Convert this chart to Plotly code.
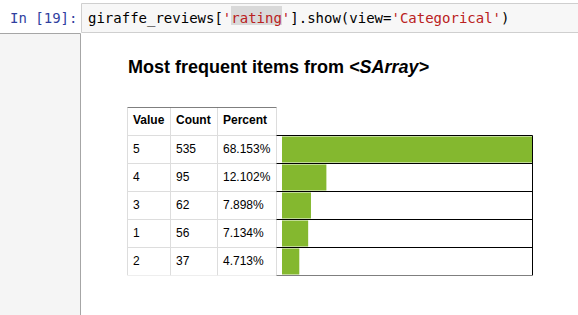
import plotly.graph_objects as go

# ---------------- data ----------------
values = ["5", "4", "3", "1", "2"]
counts = [535, 95, 62, 56, 37]
percents = ["68.153%", "12.102%", "7.898%", "7.134%", "4.713%"]
headers = ["Value", "Count", "Percent"]
title_text = "<b>Most frequent items from <i>&lt;SArray&gt;</i></b>"
prompt_text = "In [19]:"
code_parts = [
    ("giraffe_reviews[", "#000000"),
    ("'rating'", "#BA2121"),
    ("].show(view=", "#000000"),
    ("'Categorical'", "#BA2121"),
    (")", "#000000"),
]

# ---------------- layout constants ----------------
W, H = 578, 315


def px(x):
    return x / W


def py(y):
    return 1 - y / H


col_edges = [127.5, 170.5, 217.5, 276.5]
bar_left, bar_right = 282, 532
row_top, row_h = 107.5, 28
n_rows = len(values) + 1
y_bottom = row_top + n_rows * row_h

GREEN = "#84b82f"
GRAY_LINE = "#dddddd"
SANS = "Liberation Sans, Arial, sans-serif"
MONO = "DejaVu Sans Mono, monospace"

fig = go.Figure()
fig.add_trace(
    go.Bar(
        x=counts,
        y=list(range(1, len(counts) + 1)),
        orientation="h",
        marker=dict(color=GREEN, line=dict(width=0)),
        width=0.93,
        hoverinfo="skip",
    )
)

fig.update_layout(
    width=W,
    height=H,
    margin=dict(l=0, r=0, t=0, b=0),
    paper_bgcolor="white",
    plot_bgcolor="rgba(0,0,0,0)",
    showlegend=False,
    xaxis=dict(domain=[px(bar_left), px(bar_right)], range=[0, max(counts)],
               visible=False, fixedrange=True),
    yaxis=dict(domain=[py(y_bottom), py(row_top)], range=[n_rows - 0.5, -0.5],
               visible=False, fixedrange=True),
)

shapes = []
# notebook chrome: code cell box, highlight, output prompt area
shapes.append(dict(type="rect", xref="paper", yref="paper",
                   x0=px(81.5), x1=px(W + 3), y0=py(3.5), y1=py(32.5),
                   fillcolor="#f7f7f7", line=dict(color="#cfcfcf", width=1)))
shapes.append(dict(type="rect", xref="paper", yref="paper",
                   x0=px(231), x1=px(282), y0=py(6), y1=py(25),
                   fillcolor="#d9d9d9", line=dict(width=0)))
shapes.append(dict(type="rect", xref="paper", yref="paper",
                   x0=px(-2), x1=px(80.5), y0=py(33.5), y1=py(H + 3),
                   fillcolor="#f5f5f5", line=dict(color="#a6a6a6", width=1)))

# table grid (gray)
for xe in col_edges:
    shapes.append(dict(type="line", xref="paper", yref="y",
                       x0=px(xe), x1=px(xe), y0=-0.5, y1=n_rows - 0.5,
                       line=dict(color=GRAY_LINE, width=1)))
for k in range(1, n_rows + 1):
    shapes.append(dict(type="line", xref="paper", yref="y",
                       x0=px(col_edges[0]), x1=px(col_edges[-1]), y0=k - 0.5, y1=k - 0.5,
                       line=dict(color=GRAY_LINE, width=1)))
# header top (black)
shapes.append(dict(type="line", xref="paper", yref="y",
                   x0=px(col_edges[0]), x1=px(col_edges[-1]), y0=-0.5, y1=-0.5,
                   line=dict(color="black", width=1)))
# bar area lines (black)
for k in range(1, n_rows + 1):
    shapes.append(dict(type="line", xref="paper", yref="y",
                       x0=px(col_edges[-1]), x1=px(bar_right + 0.5), y0=k - 0.5, y1=k - 0.5,
                       line=dict(color="black", width=1)))
shapes.append(dict(type="line", xref="paper", yref="y",
                   x0=px(bar_right + 0.5), x1=px(bar_right + 0.5), y0=0.5, y1=n_rows - 0.5,
                   line=dict(color="black", width=1)))

annotations = []
annotations.append(dict(xref="paper", yref="paper", x=px(126), y=py(66.5),
                        xanchor="left", yanchor="middle", showarrow=False,
                        text=title_text, font=dict(family=SANS, size=18, color="#000000")))
annotations.append(dict(xref="paper", yref="paper", x=px(8), y=py(18),
                        xanchor="left", yanchor="middle", showarrow=False,
                        text=prompt_text, font=dict(family=MONO, size=14, color="#303F9F")))
code_html = "".join(f"<span style='color:{c}'>{t}</span>" for t, c in code_parts)
annotations.append(dict(xref="paper", yref="paper", x=px(86), y=py(18),
                        xanchor="left", yanchor="middle", showarrow=False,
                        text=code_html, font=dict(family=MONO, size=14, color="#000000")))

for j, h in enumerate(headers):
    annotations.append(dict(xref="paper", yref="y", x=px(col_edges[j] + 3.5), y=0, yshift=1.5,
                            xanchor="left", yanchor="middle", showarrow=False,
                            text=f"<b>{h}</b>", font=dict(family=SANS, size=12, color="#000000")))
for i, (v, c, p) in enumerate(zip(values, counts, percents)):
    for j, t in enumerate([v, str(c), p]):
        annotations.append(dict(xref="paper", yref="y", x=px(col_edges[j] + 3.5), y=i + 1,
                                yshift=1,
                                xanchor="left", yanchor="middle", showarrow=False,
                                text=t, font=dict(family=SANS, size=12, color="#000000")))

fig.update_layout(shapes=shapes, annotations=annotations)
fig.write_html("out.html", config={"displayModeBar": False})
